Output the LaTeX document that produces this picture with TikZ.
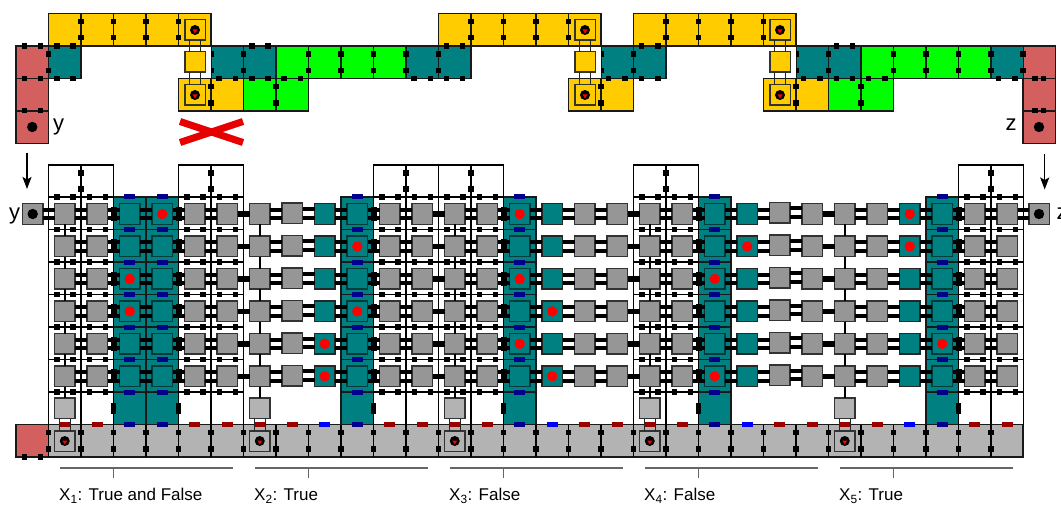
\documentclass[tikz,border=0pt]{standalone}
\usepackage{fontspec}
\setmainfont{Liberation Sans}
\usetikzlibrary{arrows.meta}
\definecolor{yel}{HTML}{FFCC00}
\definecolor{tl}{HTML}{008080}
\definecolor{grn}{HTML}{00FF00}
\definecolor{pnk}{HTML}{D45F5F}
\definecolor{gsq}{HTML}{969696}
\definecolor{gbar}{HTML}{B3B3B3}
\definecolor{dkblue}{HTML}{00008C}
\definecolor{dkred}{HTML}{990000}
\definecolor{crossred}{HTML}{E60000}
\definecolor{tedge}{HTML}{003C3C}
\definecolor{gedge}{HTML}{333333}
\tikzset{
  cell/.style={draw=black!90,line width=1.5pt},
  wire/.style={draw=black,line width=1.4pt},
  blk/.style={fill=black},
  sqbase/.style={rectangle,minimum size=20.5pt,inner sep=0pt,outer sep=0pt,line width=1.5pt},
  gs/.style={sqbase,draw=gedge,fill=gsq},
  ts/.style={sqbase,draw=tedge,fill=tl},
  fs/.style={sqbase,draw=black!85,fill=tl},
  lg/.style={sqbase,draw=gedge,fill=gbar},
  pinbox/.style={sqbase,draw=gedge},
  bardouble/.style={draw=black,line width=4pt},
  barsingle/.style={draw=black,line width=5.5pt},
  vlink/.style={draw=black,line width=2.2pt},
  tlink/.style={draw=black!85,line width=1.5pt},
  ticks/.style={draw=black!60,line width=1.3pt},
  lab/.style={anchor=base west,inner sep=0pt,font=\fontsize{17}{17}\selectfont},
  letter/.style={anchor=base west,inner sep=0pt,font=\fontsize{22}{22}\selectfont},
  flow/.style={draw=black,line width=1.5pt,-{Stealth[length=12pt,width=9pt,inset=2.5pt]}}
}
\newcommand\blksq[2]{\fill[blk] (#1-2.75,#2-2.75) rectangle (#1+2.75,#2+2.75);}
\newcommand\pinsq[4]{%
  \node[pinbox,fill=#4] (#1) at (#2,#3) {};
  \fill[black] (#2,#3) circle (5);
  \fill[red] (#2-2.5,#3-0.5) -- (#2+2.5,#3-0.5) -- (#2,#3+3.5) -- cycle;}
\begin{document}
\begin{tikzpicture}[x=1pt,y=-1pt]
\useasboundingbox (0,0) rectangle (1061,508);
% ---------- top gadget chain
\foreach \y in {46,78.5,111} {\draw[cell,fill=pnk] (16,\y) rectangle ++(32.5,32.5);
  \draw[cell,fill=pnk] (1023,\y) rectangle ++(32.5,32.5);}
\foreach \x in {48.5,81,113.5,146,178.5, 438.5,471,503.5,536,568.5, 633.5,666,698.5,731,763.5}
  {\draw[cell,fill=yel] (\x,13.5) rectangle ++(32.5,32.5);}
\foreach \x in {48.5,211,243.5,406,438.5,601,633.5,796,828.5,991}
  {\draw[cell,fill=tl] (\x,46) rectangle ++(32.5,32.5);}
\foreach \x in {276,308.5,341,373.5,861,893.5,926,958.5}
  {\draw[cell,fill=grn] (\x,46) rectangle ++(32.5,32.5);}
\foreach \x in {178.5,211,568.5,601,763.5,796}
  {\draw[cell,fill=yel] (\x,78.5) rectangle ++(32.5,32.5);}
\foreach \x in {243.5,276,828.5,861}
  {\draw[cell,fill=grn] (\x,78.5) rectangle ++(32.5,32.5);}
\foreach \x in {81,113.5,146,178.5,471,503.5,536,568.5,666,698.5,731,763.5}
  {\blksq{\x}{21.5}\blksq{\x}{37.5}}
\foreach \x in {48.5,211,243.5,308.5,341,373.5,406,438.5,601,633.5,796,828.5,893.5,926,958.5,991,1023}
  {\blksq{\x}{54}\blksq{\x}{70.5}}
\foreach \x in {211,276,601,796,861}
  {\blksq{\x}{86.5}\blksq{\x}{103}}
\foreach \x in {24.5,40.5,57,73,252,268,446.5,462.5,641.5,658,836.5,852.5}
  {\blksq{\x}{46}}
\foreach \x in {24.5,40.5,57,73,219,235.5,252,268,284,300.5,414,430.5,446.5,462.5,608.5,625,641.5,658,803.5,820,836.5,852.5,868.5,885,998.5,1015,1035,1043.5}
  {\blksq{\x}{78.5}}
\foreach \x in {24.5,40.5,1035,1043.5}
  {\blksq{\x}{110.7}}
\foreach \k/\x in {a/195,b/585,c/780} {
  \fill[white] (\x-16,46.8) rectangle (\x+16,77.7);
  \pinsq{top\k}{\x}{30}{yel}
  \node[pinbox,fill=yel] (mid\k) at (\x,62) {};
  \pinsq{bot\k}{\x}{95}{yel}
  \draw[tlink] ([xshift=-5.5pt]top\k.south) -- ([xshift=-5.5pt]mid\k.north);
  \draw[tlink] ([xshift=5.5pt]top\k.south) -- ([xshift=5.5pt]mid\k.north);
  \draw[tlink] ([xshift=-5.5pt]mid\k.south) -- ([xshift=-5.5pt]bot\k.north);
  \draw[tlink] ([xshift=5.5pt]mid\k.south) -- ([xshift=5.5pt]bot\k.north);
}
\fill[black] (32.25,127) circle (5.2);
\fill[black] (1039,127) circle (5.2);
\node[letter] (ly) at (53,130.5) {y};
\node[letter] (lz) at (1005.5,130.5) {z};
% red cross
\draw[crossred,line width=7pt] (180,121.5) -- (243,142.5);
\draw[crossred,line width=7pt] (180,142.5) -- (243,121.5);
% arrows
\coordinate (ay0) at (27,153);
\coordinate (ay1) at (27,189);
\coordinate (az0) at (1044.7,154);
\coordinate (az1) at (1044.7,189.5);
\draw[flow] (ay0) -- (ay1);
\draw[flow] (az0) -- (az1);
% ---------- bottom bar
\draw[cell,fill=gbar] (48.5,424.5) rectangle (1023,457);
\draw[cell,fill=pnk] (16,424.5) rectangle (48.5,457);
% teal columns
\foreach \x/\w in {113.5/65,341/32.5,503.5/32.5,698.5/32.5,926/32.5}
  {\draw[cell,fill=tl] (\x,197) rectangle ++(\w,227.5);}
\draw[cell] (146,197) -- (146,424.5);
\foreach \x/\w in {113.5/65,341/32.5,503.5/32.5,698.5/32.5,926/32.5}
  {\foreach \r in {1,...,6} {\draw[cell] (\x,197+32.5*\r) -- ++(\w,0);}}
% frames
\foreach \x in {48.5,178.5,373.5,438.5,633.5,958.5} {
  \draw[wire] (\x,165) rectangle ++(65,32);
  \draw[wire] (\x,165) -- (\x,424.5);
  \draw[wire] (\x+32.5,165) -- (\x+32.5,424.5);
  \draw[wire] (\x+65,165) -- (\x+65,424.5);
  \blksq{\x+32.5}{173}\blksq{\x+32.5}{189}
  \foreach \r in {0,...,6} {
    \draw[wire] (\x,197+32.5*\r) -- ++(65,0);
    \blksq{\x+8.5}{197+32.5*\r}\blksq{\x+24.5}{197+32.5*\r}
    \blksq{\x+41}{197+32.5*\r}\blksq{\x+57}{197+32.5*\r}
  }
}
% bottom bar cell boundaries
\foreach \k in {0,...,29} {
  \draw[wire] (48.5+32.5*\k,424.5) -- (48.5+32.5*\k,457);
  \blksq{48.5+32.5*\k}{432.5}\blksq{48.5+32.5*\k}{449}
}
\blksq{24.5}{457}\blksq{40.5}{457}
% small bars on the line y=424
\foreach \x in {64.75,97.25,194.75,227.25,259.75,292.25,389.75,422.25,454.75,487.25,584.75,617.25,649.75,682.25,779.75,812.25,844.75,877.25,974.75,1007.25}
  {\fill[dkred] (\x-5.5,422) rectangle (\x+5.5,427);}
\foreach \x in {324.75,552.25,747.25,909.75}
  {\fill[blue] (\x-5.5,422) rectangle (\x+5.5,427);}
\foreach \x in {129.75,162.25,357.25,519.75,714.75,942.25} {
  \foreach \r in {0,...,7} {\fill[dkblue] (\x-5.5,197+32.5*\r-2.5) rectangle ++(11,5);}
}
% ---------- lattice squares
\node[gs] (ty) at (32.7,214) {};
\node[gs] (tz) at (1039,214) {};
\foreach \r in {1,...,6} {
  \pgfmathsetmacro\ry{214+32.45*(\r-1)}
  \foreach \i/\st in {1/gs,2/gs,3/ts,4/ts,5/gs,6/gs,7/gs,8/gs,9/fs,10/ts,11/gs,12/gs,13/gs,14/gs,15/ts,16/fs,17/gs,18/gs,19/gs,20/gs,21/ts,22/fs,23/gs,24/gs,25/gs,26/gs,27/fs,28/ts,29/gs,30/gs} {
    \pgfmathsetmacro\jit{(\i==8)*0.7+(\i==23)*1.2}
    \pgfmathsetmacro\gx{64.75+32.5*(\i-1)}
    \node[\st] (g-\i-\r) at (\gx,\ry-\jit) {};
  }
  % double connectors, level with the row
  \foreach \a/\b in {1/2,2/3,3/4,4/5,5/6,7/8,8/9,9/10,10/11,11/12,13/14,14/15,15/16,16/17,17/18,19/20,20/21,21/22,22/23,23/24,25/26,26/27,27/28,28/29,29/30} {
    \draw[bardouble] ([yshift=4.3pt]g-\a-\r.east) -- ([yshift=4.3pt]g-\a-\r.east -| g-\b-\r.west);
    \draw[bardouble] ([yshift=-4.3pt]g-\a-\r.east) -- ([yshift=-4.3pt]g-\a-\r.east -| g-\b-\r.west);
  }
  % single connectors
  \foreach \a/\b in {6/7,12/13,18/19,24/25} {
    \draw[barsingle] (g-\a-\r.east) -- (g-\b-\r.west);
  }
  % blocks beside teal columns
  \foreach \x in {113.5,178.5,373.5,503.5,698.5,958.5} {
    \fill[black] (\x-3,\ry-7) rectangle (\x+3,\ry+7);
  }
}
\draw[bardouble] ([yshift=4.3pt]ty.east) -- ([yshift=4.3pt]g-1-1.west);
\draw[bardouble] ([yshift=-4.3pt]ty.east) -- ([yshift=-4.3pt]g-1-1.west);
\draw[bardouble] ([yshift=4.3pt]g-30-1.east) -- ([yshift=4.3pt]tz.west);
\draw[bardouble] ([yshift=-4.3pt]g-30-1.east) -- ([yshift=-4.3pt]tz.west);
\fill[black] (32.7,214) circle (5.2);
\fill[black] (1039,214) circle (5.2);
% rectangles under the teal columns
\foreach \x in {113.5,178.5,373.5,503.5,698.5,958.5} {
  \fill[black] (\x-2.5,402.5) rectangle (\x+2.5,413.5);
}
% variable columns: lower squares and pins
\foreach \n/\i in {a/1,b/7,c/13,d/19,e/25} {
  \pgfmathsetmacro\gx{64.75+32.5*(\i-1)}
  \node[lg] (low\n) at (\gx,408) {};
  \pinsq{pin\n}{\gx}{441}{gbar}
  \draw[tlink] ([xshift=-5.5pt]low\n.south) -- ([xshift=-5.5pt]pin\n.north);
  \draw[tlink] ([xshift=5.5pt]low\n.south) -- ([xshift=5.5pt]pin\n.north);
  \draw[vlink] (g-\i-6.south) -- (low\n.north);
  \foreach \r/\s in {1/2,2/3,3/4,4/5,5/6} {
    \draw[vlink] (g-\i-\r.south) -- (g-\i-\s.north);
  }
}
% red tokens
\foreach \i/\r in {4/1,15/1,27/1,10/2,22/2,27/2,3/3,15/3,21/3,3/4,10/4,16/4,9/5,15/5,28/5,9/6,16/6,21/6} {
  \fill[red] (g-\i-\r.center) circle (5.2);
}
% brackets and labels
\foreach \k/\x/\lbl in {1/60/True and False,2/255/True,3/450/False,4/645/False,5/840/True} {
  \coordinate (bl\k) at (\x,468);
  \coordinate (br\k) at (\x+172.5,468);
  \coordinate (bm\k) at (\x+53.5,468);
  \coordinate (bt\k) at (\x+53.5,478);
  \draw[ticks] (bl\k) -- (br\k);
  \draw[ticks] (bm\k) -- (bt\k);
  \node[lab] (var\k) at (\x-1,500.5) {X\textsubscript{\k}: \lbl};
}
\node[letter] (ly2) at (9,219.5) {y};
\node[letter] (lz2) at (1056.5,219.5) {z};
\end{tikzpicture}
\end{document}
